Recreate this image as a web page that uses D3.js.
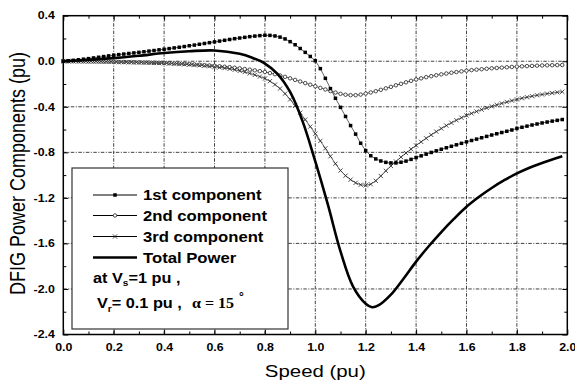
<!DOCTYPE html>
<html><head><meta charset="utf-8">
<script src="https://cdn.jsdelivr.net/npm/d3@7"></script>
<style>body{margin:0;background:#fff}svg{display:block}</style>
</head><body><svg id="c" width="575" height="384"></svg>
<script>
// ---------- DATA ----------
const speed = [0,0.02,0.04,0.06,0.08,0.10,0.12,0.14,0.16,0.18,
0.20,0.22,0.24,0.26,0.28,0.30,0.32,0.34,0.36,0.38,
0.40,0.42,0.44,0.46,0.48,0.50,0.52,0.54,0.56,0.58,
0.60,0.62,0.64,0.66,0.68,0.70,0.72,0.74,0.76,0.78,
0.80,0.82,0.84,0.86,0.88,0.90,0.92,0.94,0.96,0.98,
1.00,1.02,1.04,1.06,1.08,1.10,1.12,1.14,1.16,1.18,
1.20,1.22,1.24,1.26,1.28,1.30,1.32,1.34,1.36,1.38,
1.40,1.42,1.44,1.46,1.48,1.50,1.52,1.54,1.56,1.58,
1.60,1.62,1.64,1.66,1.68,1.70,1.72,1.74,1.76,1.78,
1.80,1.82,1.84,1.86,1.88,1.90,1.92,1.94,1.96,1.98];

const comp1 = [0.000,0.004,0.008,0.013,0.018,0.023,0.029,0.035,0.041,0.047,
0.053,0.058,0.063,0.068,0.073,0.078,0.083,0.089,0.094,0.100,
0.105,0.111,0.117,0.123,0.129,0.136,0.142,0.149,0.156,0.163,
0.170,0.177,0.184,0.191,0.198,0.204,0.210,0.216,0.221,0.225,
0.228,0.227,0.222,0.212,0.196,0.172,0.145,0.112,0.078,0.042,
0.005,-0.065,-0.150,-0.240,-0.325,-0.405,-0.485,-0.565,-0.640,-0.720,
-0.785,-0.830,-0.858,-0.876,-0.888,-0.893,-0.893,-0.887,-0.877,-0.862,
-0.846,-0.831,-0.816,-0.801,-0.787,-0.773,-0.760,-0.747,-0.734,-0.721,
-0.708,-0.696,-0.684,-0.672,-0.660,-0.648,-0.637,-0.626,-0.615,-0.604,
-0.590,-0.580,-0.570,-0.560,-0.551,-0.542,-0.534,-0.526,-0.519,-0.512];

const comp2 = [0.000,0.000,0.000,-0.001,-0.001,-0.002,-0.002,-0.003,-0.004,-0.004,
-0.005,-0.006,-0.007,-0.008,-0.009,-0.010,-0.011,-0.012,-0.013,-0.014,
-0.015,-0.017,-0.019,-0.021,-0.023,-0.025,-0.028,-0.031,-0.034,-0.037,
-0.040,-0.044,-0.048,-0.052,-0.057,-0.062,-0.068,-0.074,-0.080,-0.087,
-0.094,-0.104,-0.114,-0.125,-0.137,-0.150,-0.164,-0.178,-0.192,-0.206,
-0.220,-0.234,-0.248,-0.262,-0.275,-0.286,-0.294,-0.298,-0.298,-0.293,
-0.284,-0.274,-0.263,-0.251,-0.238,-0.225,-0.211,-0.198,-0.185,-0.172,
-0.160,-0.150,-0.140,-0.131,-0.123,-0.115,-0.108,-0.101,-0.095,-0.089,
-0.083,-0.078,-0.074,-0.070,-0.066,-0.062,-0.059,-0.056,-0.053,-0.050,
-0.047,-0.045,-0.043,-0.041,-0.039,-0.037,-0.036,-0.035,-0.034,-0.033];

const comp3 = [0.000,0.000,-0.001,-0.001,-0.002,-0.002,-0.003,-0.003,-0.004,-0.005,
-0.006,-0.007,-0.008,-0.009,-0.010,-0.011,-0.012,-0.013,-0.015,-0.016,
-0.018,-0.020,-0.022,-0.024,-0.027,-0.030,-0.033,-0.036,-0.040,-0.044,
-0.049,-0.054,-0.060,-0.067,-0.075,-0.085,-0.095,-0.107,-0.120,-0.135,
-0.152,-0.175,-0.205,-0.240,-0.285,-0.335,-0.392,-0.452,-0.513,-0.574,
-0.636,-0.700,-0.765,-0.835,-0.900,-0.960,-1.005,-1.040,-1.068,-1.085,
-1.090,-1.080,-1.050,-1.008,-0.962,-0.920,-0.880,-0.842,-0.806,-0.772,
-0.740,-0.708,-0.677,-0.647,-0.618,-0.591,-0.565,-0.541,-0.518,-0.496,
-0.476,-0.458,-0.441,-0.425,-0.410,-0.396,-0.383,-0.370,-0.358,-0.346,
-0.335,-0.325,-0.316,-0.307,-0.299,-0.292,-0.285,-0.279,-0.273,-0.268];

const totalSpeed = [0,0.1,0.2,0.3,0.4,0.5,0.6,0.7,0.75,0.8,0.85,0.9,0.95,1.0,1.05,1.1,1.15,1.2,1.225,1.25,1.3,1.35,1.4,1.45,1.5,1.55,1.6,1.65,1.7,1.75,1.8,1.85,1.9,1.98];
const totalPower = [0,0.012,0.027,0.048,0.072,0.088,0.095,0.065,0.03,-0.02,-0.11,-0.27,-0.53,-0.88,-1.26,-1.67,-1.98,-2.13,-2.16,-2.145,-2.05,-1.91,-1.76,-1.625,-1.50,-1.385,-1.278,-1.19,-1.113,-1.045,-0.985,-0.935,-0.893,-0.835];

const xTicks = [0,0.2,0.4,0.6,0.8,1.0,1.2,1.4,1.6,1.8,2.0];
const xTickLabels = ["0.0","0.2","0.4","0.6","0.8","1.0","1.2","1.4","1.6","1.8","2.0"];
const xMinor = [0.1,0.3,0.5,0.7,0.9,1.1,1.3,1.5,1.7,1.9];
const yTicks = [0.4,0.0,-0.4,-0.8,-1.2,-1.6,-2.0,-2.4];
const yTickLabels = ["0.4","0.0","-0.4","-0.8","-1.2","-1.6","-2.0","-2.4"];
const yMinor = [0.2,-0.2,-0.6,-1.0,-1.4,-1.8,-2.2];
const legendLabels = ["1st component","2nd component","3rd component","Total Power"];
const xTitle = "Speed (pu)";
const yTitle = "DFIG Power Components (pu)";

// ---------- CHART ----------
const svg = d3.select("#c");
const L = 63.3, R = 567.3, T = 15.7, B = 334.5;
const x = d3.scaleLinear().domain([0, 2]).range([L, R]);
const y = d3.scaleLinear().domain([-2.4, 0.4]).range([B, T]);
const SX = 1.2;
const sans = "'Liberation Sans', Arial, sans-serif";

// grid
const grid = svg.append("g").attr("stroke", "#111").attr("stroke-width", 0.8)
  .attr("stroke-dasharray", "3.5,1.5,1,1.5").attr("fill", "none");
grid.selectAll(".gx").data(xTicks.slice(1, -1)).join("line")
  .attr("x1", d => x(d)).attr("x2", d => x(d)).attr("y1", T).attr("y2", B);
grid.selectAll(".gy").data(yTicks.slice(1, -1)).join("line")
  .attr("y1", d => y(d)).attr("y2", d => y(d)).attr("x1", L).attr("x2", R);

// axes (inward ticks)
function ax(gen, tx, ty, vals, size, labels) {
  const g = svg.append("g").attr("transform", `translate(${tx},${ty})`)
    .call(gen.tickValues(vals).tickSizeInner(-size).tickSizeOuter(0)
      .tickFormat(labels ? (d, i) => labels[i] : () => ""));
  g.select(".domain").remove();
  g.selectAll(".tick line").attr("stroke", "#000").attr("stroke-width", 1);
  return g;
}
const xb = ax(d3.axisBottom(x).tickPadding(9), 0, B, xTicks, 5, xTickLabels);
ax(d3.axisBottom(x), 0, B, xMinor, 3, null);
ax(d3.axisTop(x), 0, T, xTicks, 5, null);
ax(d3.axisTop(x), 0, T, xMinor, 3, null);
const yl = ax(d3.axisLeft(y).tickPadding(8.5), L, 0, yTicks, 5, yTickLabels);
ax(d3.axisLeft(y), L, 0, yMinor, 3, null);
ax(d3.axisRight(y), R, 0, yTicks, 5, null);
ax(d3.axisRight(y), R, 0, yMinor, 3, null);

xb.selectAll("text").attr("font-family", sans).attr("font-weight", "bold")
  .attr("font-size", 10.3).attr("fill", "#000").attr("transform", `scale(${SX},1)`);
yl.selectAll("text").attr("font-family", sans).attr("font-weight", "bold")
  .attr("font-size", 10.3).attr("fill", "#000").attr("x", -8.5 / SX)
  .attr("transform", `scale(${SX},1)`);

// frame
svg.append("rect").attr("x", L).attr("y", T).attr("width", R - L).attr("height", B - T)
  .attr("fill", "none").attr("stroke", "#000").attr("stroke-width", 1.5);

// series
const ptsOf = arr => speed.map((s, i) => [s, arr[i]]);
const line = d3.line().x(d => x(d[0])).y(d => y(d[1]));

function thinLine(arr) {
  svg.append("path").datum(ptsOf(arr)).attr("d", line)
    .attr("fill", "none").attr("stroke", "#222").attr("stroke-width", 0.7);
}
thinLine(comp2); thinLine(comp3); thinLine(comp1);

// markers
const sq = 3.5;
function drawSquare(g, cx, cy) {
  g.append("rect").attr("x", cx - sq / 2).attr("y", cy - sq / 2).attr("width", sq).attr("height", sq).attr("fill", "#000");
}
function drawCircle(g, cx, cy) {
  g.append("circle").attr("cx", cx).attr("cy", cy).attr("r", 1.75)
    .attr("fill", "#fff").attr("stroke", "#222").attr("stroke-width", 0.8);
}
function drawCross(g, cx, cy) {
  const s = 2.1;
  g.append("path").attr("d", `M${cx - s},${cy - s}L${cx + s},${cy + s}M${cx - s},${cy + s}L${cx + s},${cy - s}`)
    .attr("stroke", "#222").attr("stroke-width", 0.8).attr("fill", "none");
}
const m2 = svg.append("g"); ptsOf(comp2).forEach(d => drawCircle(m2, x(d[0]), y(d[1])));
const m3 = svg.append("g"); ptsOf(comp3).forEach(d => drawCross(m3, x(d[0]), y(d[1])));
const m1 = svg.append("g"); ptsOf(comp1).forEach(d => drawSquare(m1, x(d[0]), y(d[1])));

// total power
const lineC = d3.line().x(d => x(d[0])).y(d => y(d[1])).curve(d3.curveCatmullRom.alpha(0.5));
svg.append("path").datum(totalSpeed.map((s, i) => [s, totalPower[i]])).attr("d", lineC)
  .attr("fill", "none").attr("stroke", "#000").attr("stroke-width", 2.6);

// legend
const lg = svg.append("g");
lg.append("rect").attr("x", 72).attr("y", 168).attr("width", 216).attr("height", 161)
  .attr("fill", "#fff").attr("stroke", "#333").attr("stroke-width", 1.2);
const rowsY = [195, 215.5, 236.5, 257.5];
const drawers = [drawSquare, drawCircle, drawCross, null];
legendLabels.forEach((lab, i) => {
  const yy = rowsY[i];
  lg.append("line").attr("x1", 93).attr("x2", 137).attr("y1", yy).attr("y2", yy)
    .attr("stroke", "#000").attr("stroke-width", i === 3 ? 2.6 : 1);
  if (drawers[i]) drawers[i](lg, 115, yy);
  lg.append("text").attr("transform", `translate(143,${yy + 5.2}) scale(1.2,1)`)
    .attr("font-family", sans).attr("font-weight", "bold").attr("font-size", 13.9)
    .attr("fill", "#000").text(lab);
});
// condition text
const t1 = lg.append("text").attr("transform", "translate(93,282.5) scale(1.18,1)")
  .attr("font-family", sans).attr("font-weight", "bold").attr("font-size", 13.8).attr("fill", "#000");
t1.append("tspan").text("at V");
t1.append("tspan").attr("font-size", 8.5).attr("dy", 3.5).text("s");
t1.append("tspan").attr("dy", -3.5).text("=1 pu ,");

const t2 = lg.append("text").attr("transform", "translate(97,308) scale(1.18,1)")
  .attr("font-family", sans).attr("font-weight", "bold").attr("font-size", 13.8).attr("fill", "#000");
t2.append("tspan").text("V");
t2.append("tspan").attr("font-size", 8.5).attr("dy", 3.5).text("r");
t2.append("tspan").attr("dy", -3.5).text("= 0.1 pu ,");
lg.append("text").attr("transform", "translate(192,308) scale(1.1,1)")
  .attr("font-family", "'Liberation Serif', 'Times New Roman', serif").attr("font-weight", "bold")
  .attr("font-size", 14.5).attr("fill", "#000").text("\u03B1 = 15");
lg.append("text").attr("x", 239).attr("y", 301)
  .attr("font-family", sans).attr("font-weight", "bold").attr("font-size", 12).attr("fill", "#000").text("\u00B0");

// titles
svg.append("text").attr("transform", `translate(${(L + R) / 2},377) scale(${SX},1)`)
  .attr("text-anchor", "middle").attr("font-family", sans).attr("font-size", 17)
  .attr("fill", "#000").text(xTitle);
svg.append("text").attr("transform", `translate(25,173.5) rotate(-90) scale(1,${SX})`)
  .attr("text-anchor", "middle").attr("font-family", sans).attr("font-size", 18)
  .attr("fill", "#000").text(yTitle);
</script></body></html>
